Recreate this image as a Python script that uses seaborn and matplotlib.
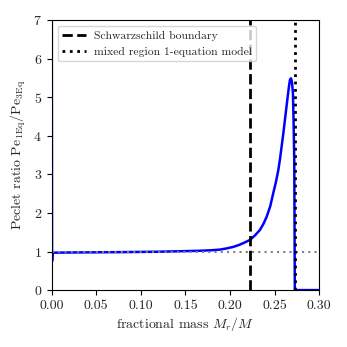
import matplotlib
matplotlib.use("Agg")
import matplotlib.pyplot as plt
import seaborn as sns
import pandas as pd

mass_fraction = [0.0, 0.0004, 0.001, 0.02, 0.05, 0.08, 0.10, 0.12, 0.14, 0.1663, 0.18,
                 0.1887, 0.196, 0.2036, 0.210, 0.216, 0.2223, 0.228, 0.2335, 0.2375,
                 0.2410, 0.2450, 0.2484, 0.2515, 0.2541, 0.2560, 0.2578, 0.2597, 0.2615,
                 0.2631, 0.2646, 0.2660, 0.2671, 0.2678, 0.2683, 0.2689, 0.2695, 0.2700,
                 0.2705, 0.2712, 0.2720, 0.2726, 0.2740, 0.30]
peclet_ratio = [9.0, 0.75, 0.97, 0.975, 0.98, 0.985, 0.99, 0.995, 1.005, 1.02, 1.035,
                1.05, 1.08, 1.12, 1.17, 1.23, 1.30, 1.42, 1.56, 1.72,
                1.90, 2.17, 2.51, 2.81, 3.11, 3.40, 3.72, 4.06, 4.41,
                4.72, 5.01, 5.27, 5.44, 5.48, 5.49, 5.45, 5.36, 5.24,
                5.10, 4.40, 3.37, 0.0, 0.0, 0.0]
schwarzschild_boundary = 0.2223
mixed_region_boundary = 0.2724
reference_ratio = 1.0

df = pd.DataFrame({"m": mass_fraction, "pe": peclet_ratio})

sns.set_theme(style="ticks")
plt.rcParams["font.family"] = ["cmr10", "DejaVu Serif"]
plt.rcParams["mathtext.fontset"] = "cm"
plt.rcParams["axes.formatter.use_mathtext"] = True
plt.rcParams["axes.unicode_minus"] = False

fig = plt.figure(figsize=(3.47, 3.47), dpi=100)
ax = fig.add_axes([0.149, 0.164, 0.771, 0.778])

sns.lineplot(data=df, x="m", y="pe", sort=False, estimator=None, color="#0000ff",
             lw=1.8, ax=ax, zorder=2)
ax.axhline(reference_ratio, color="gray", linestyle=(0, (1, 2)), lw=1.5, zorder=2.5)
ax.axvline(schwarzschild_boundary, color="black", linestyle=(0, (3.7, 1.6)), lw=2,
           label="Schwarzschild boundary", zorder=3)
ax.axvline(mixed_region_boundary, color="black", linestyle=(0, (1, 1.65)), lw=2,
           label="mixed region 1-equation model", zorder=3)

ax.set_xlim(0, 0.30)
ax.set_ylim(0, 7)
ax.set_xticks([0.0, 0.05, 0.10, 0.15, 0.20, 0.25, 0.30])
ax.set_xticklabels(["0.00", "0.05", "0.10", "0.15", "0.20", "0.25", "0.30"])
ax.set_yticks(range(0, 8))
ax.tick_params(labelsize=10, direction="out", length=3.5, width=0.8, color="black")
for s in ax.spines.values():
    s.set_color("black")
    s.set_linewidth(0.8)
ax.set_xlabel(r"fractional mass $M_r/M$", fontsize=10, labelpad=2)
ax.set_ylabel(r"Peclet ratio $\mathrm{Pe}_{\mathrm{1Eq}}/\mathrm{Pe}_{\mathrm{3Eq}}$", fontsize=10)
ax.legend(loc="upper left", fontsize=8.4, frameon=True, handlelength=2.0,
          handletextpad=0.7)

fig.savefig("out.png", dpi=100)
